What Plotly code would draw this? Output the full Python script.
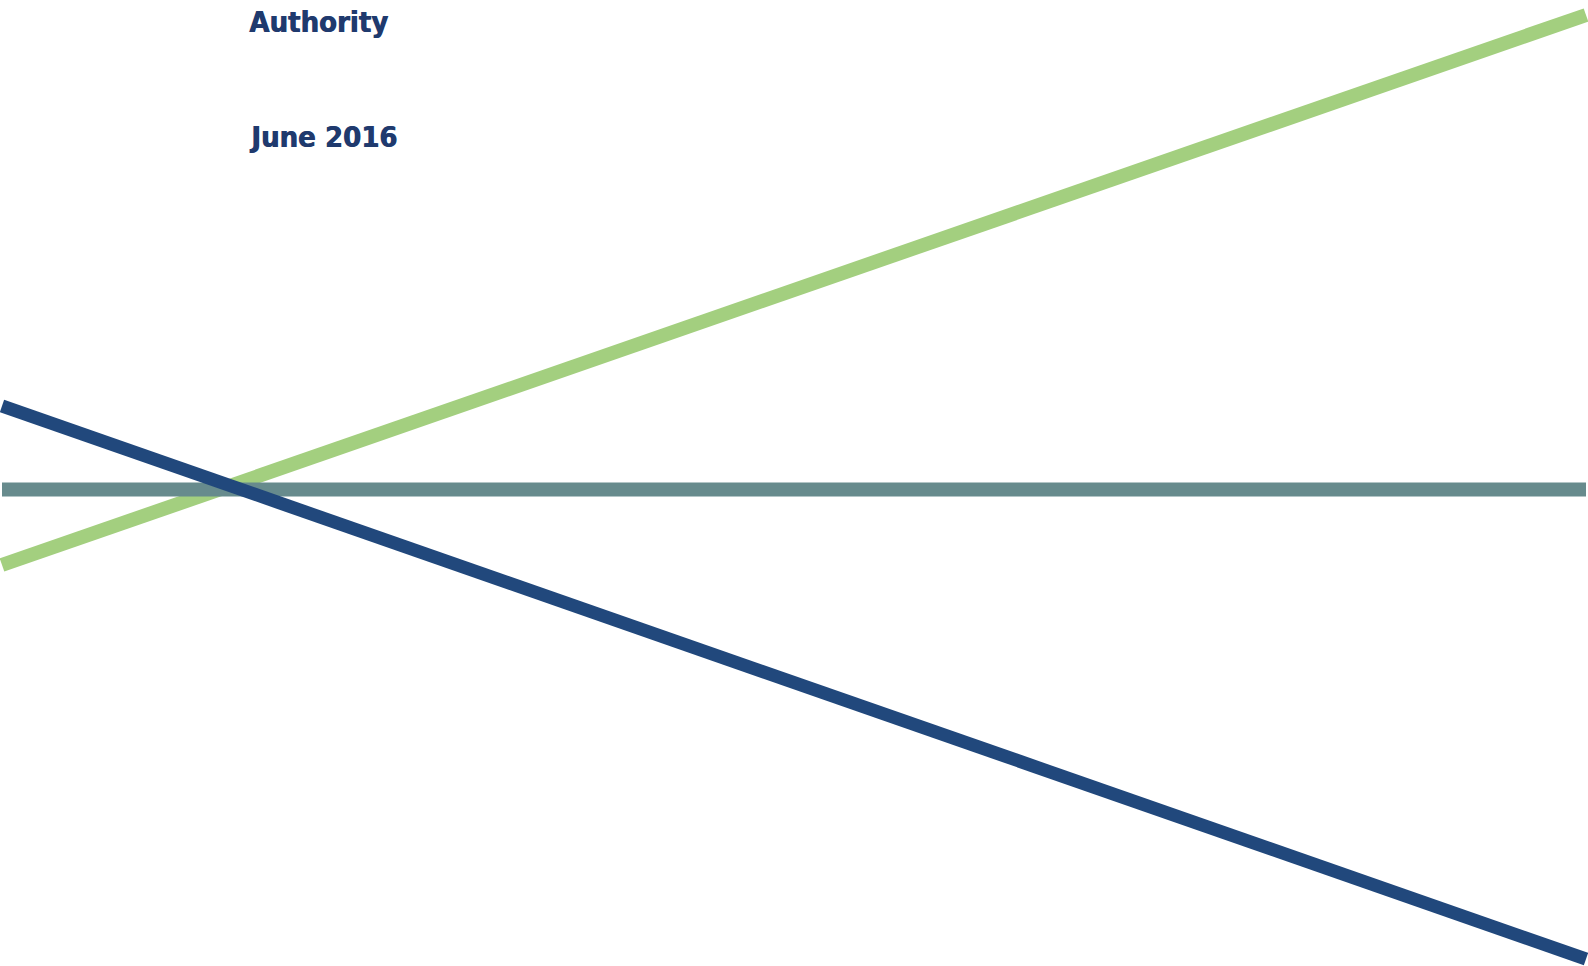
import plotly.graph_objects as go

W, H = 1588, 966

# Line endpoints (page pixel coordinates, y measured from top)
green_x = [2, 1586]
green_y = [565, 15]
teal_x = [2, 1586]
teal_y = [489.5, 489.5]
navy_x = [2, 1586]
navy_y = [406, 959]

title_lines = ["Queensland Competition", "Authority"]
title_baselines = [-6, 33]
date_text = "June 2016"
date_baseline = 148
text_left = 247

TEXT_COLOR = "#1F3A6E"
FONT = "DejaVu Sans Condensed, DejaVu Sans, Verdana, sans-serif"

fig = go.Figure()
fig.add_trace(go.Scatter(x=green_x, y=green_y, mode="lines",
                         line=dict(color="#A3CF7F", width=14), hoverinfo="skip"))
fig.add_trace(go.Scatter(x=teal_x, y=teal_y, mode="lines",
                         line=dict(color="#678B8D", width=14), hoverinfo="skip"))
fig.add_trace(go.Scatter(x=navy_x, y=navy_y, mode="lines",
                         line=dict(color="#21487C", width=13), hoverinfo="skip"))

fs = 29
annotations = []
for txt, base in list(zip(title_lines, title_baselines)) + [(date_text, date_baseline)]:
    annotations.append(dict(
        x=text_left, y=base, xref="x", yref="y", text="<b>" + txt + "</b>",
        showarrow=False, xanchor="left", yanchor="bottom",
        yshift=-8,
        font=dict(family=FONT, size=fs, color=TEXT_COLOR,
                  shadow="0.7px 0 0 " + TEXT_COLOR),
    ))

fig.update_layout(
    width=W, height=H,
    margin=dict(l=0, r=0, t=0, b=0),
    paper_bgcolor="white", plot_bgcolor="white",
    showlegend=False,
    xaxis=dict(range=[0, W], visible=False, fixedrange=True),
    yaxis=dict(range=[H, 0], visible=False, fixedrange=True),
    annotations=annotations,
)

fig.write_html("out.html", config={"displayModeBar": False},
               post_script="document.body.style.margin='0';document.body.style.overflow='hidden';")
